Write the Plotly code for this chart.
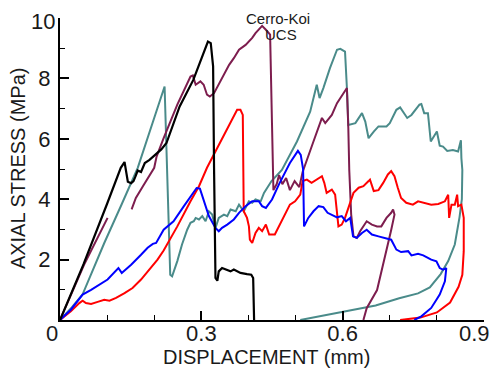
import plotly.graph_objects as go

# ---------------- data ----------------
teal_x = [0, 0.025, 0.048, 0.094, 0.130, 0.165, 0.222, 0.227, 0.231, 0.234, 0.238, 0.249, 0.259, 0.270,
          0.277, 0.284, 0.288, 0.295, 0.302, 0.309, 0.316, 0.323, 0.330, 0.337, 0.348, 0.355, 0.362,
          0.373, 0.380, 0.390, 0.401, 0.408, 0.415, 0.426, 0.433, 0.440, 0.449, 0.471, 0.503, 0.531,
          0.545, 0.551, 0.559, 0.573, 0.588, 0.595, 0.600, 0.605, 0.609, 0.612, 0.627, 0.641, 0.648,
          0.655, 0.666, 0.676, 0.693, 0.700, 0.714, 0.722, 0.737, 0.746, 0.763, 0.767, 0.773, 0.781,
          0.787, 0.800, 0.806, 0.813, 0.822, 0.834, 0.845, 0.851, 0.852, 0.854, 0.853, 0.848, 0.838,
          0.824, 0.808, 0.785, 0.760, 0.720, 0.670, 0.600, 0.545, 0.510]
teal_y = [0, 0.42, 0.85, 2.55, 3.80, 5.04, 7.73, 5.04, 2.83, 1.50, 1.45, 1.95, 2.50, 2.99,
          3.22, 3.27, 3.38, 3.33, 3.44, 3.27, 3.60, 3.49, 3.05, 3.38, 3.49, 3.44, 3.66,
          3.60, 3.82, 3.60, 3.93, 3.88, 3.99, 3.93, 4.21, 4.38, 4.60, 4.97, 5.91, 6.90,
          7.79, 7.35, 7.68, 8.34, 8.95, 8.98, 8.92, 8.89, 7.68, 6.46, 6.52, 6.85, 6.57,
          6.02, 6.24, 6.41, 6.41, 6.52, 6.96, 7.04, 6.69, 6.79, 7.13, 7.15, 6.85, 6.85,
          5.91, 6.24, 5.77, 5.74, 5.60, 5.63, 5.58, 5.95, 5.36, 4.97, 4.00, 3.40, 2.50,
          1.95, 1.52, 1.08, 0.88, 0.72, 0.48, 0.28, 0.10, 0.0]

maroon_x = [0, 0.051, 0.101, None, 0.152, 0.161, 0.176, 0.200, 0.205, 0.220, 0.249, 0.277, 0.282,
            0.288, 0.298, 0.305, 0.312, 0.318, 0.327, 0.337, 0.348, 0.359, 0.369, 0.380, 0.394,
            0.408, 0.415, 0.426, 0.429, 0.437, 0.446, 0.450, 0.453, 0.460, 0.465, 0.472, 0.480,
            0.488, 0.498, 0.508, 0.515, 0.538, 0.556, 0.563, 0.577, 0.588, 0.602, 0.609, 0.612,
            0.614, 0.618, 0.623, 0.630, 0.637, 0.651, 0.662, 0.673, 0.682, 0.693, 0.703, 0.707,
            0.710, 0.703, 0.687, 0.673, 0.651, 0.644]
maroon_y = [0, 1.83, 3.38, None, 3.66, 4.04, 4.43, 5.04, 5.41, 6.02, 7.13, 8.06, 8.10,
            7.79, 7.90, 7.79, 7.46, 7.40, 7.51, 7.79, 8.12, 8.45, 8.67, 8.95, 9.11,
            9.34, 9.50, 9.67, 9.74, 9.61, 9.45, 6.50, 4.30, 4.50, 4.80, 4.50, 4.70,
            4.30, 4.60, 4.40, 4.90, 5.91, 6.69, 6.52, 6.79, 7.18, 7.51, 7.68, 6.35,
            4.97, 3.50, 2.77, 2.72, 2.94, 3.27, 3.16, 3.10, 3.10, 3.38, 3.55, 3.66,
            3.49, 2.98, 1.88, 0.99, 0.39, 0]

red_x = [0, 0.023, 0.041, 0.048, 0.055, 0.066, 0.080, 0.094, 0.105, 0.119, 0.137, 0.154, 0.172,
         0.190, 0.207, 0.220, 0.249, 0.277, 0.295, 0.312, 0.348, 0.366, 0.376, 0.383, 0.388,
         0.390, 0.394, 0.397, 0.401, 0.403, 0.408, 0.415, 0.422, 0.429, 0.437, 0.444, 0.456,
         0.467, 0.478, 0.488, 0.499, 0.510, 0.515, 0.524, 0.534, 0.545, 0.556, 0.561, 0.566,
         0.577, 0.584, 0.591, 0.598, 0.605, 0.614, 0.623, 0.634, 0.644, 0.655, 0.658, 0.666,
         0.676, 0.686, 0.696, 0.703, 0.710, 0.717, 0.724, 0.735, 0.749, 0.760, 0.774, 0.788,
         0.803, 0.817, 0.824, 0.826, 0.831, 0.838, 0.843, 0.845, 0.852, 0.857, 0.857, 0.854,
         0.846, 0.828, 0.800, 0.765, 0.722]
red_y = [0, 0.29, 0.56, 0.64, 0.56, 0.53, 0.60, 0.67, 0.64, 0.73, 0.89, 1.06, 1.34,
         1.67, 2.00, 2.30, 3.10, 3.93, 4.43, 5.04, 6.13, 6.69, 6.96, 6.96, 6.79,
         3.60, 3.49, 3.38, 3.10, 2.66, 2.55, 2.88, 3.05, 2.94, 3.16, 2.83, 2.83,
         3.16, 3.49, 3.82, 3.93, 4.15, 4.60, 4.65, 4.54, 4.65, 4.76, 4.54, 4.21,
         4.32, 4.15, 3.10, 3.16, 3.38, 3.82, 4.21, 4.38, 4.43, 4.60, 4.65, 4.27,
         4.30, 4.54, 4.82, 4.93, 4.76, 4.38, 4.04, 3.88, 3.82, 3.93, 3.88, 3.82,
         3.84, 3.93, 4.15, 3.38, 3.82, 3.82, 4.15, 3.77, 3.82, 3.38, 2.28, 1.50,
         1.10, 0.58, 0.25, 0.08, 0]

blue_x = [0, 0.023, 0.048, 0.066, 0.101, 0.124, 0.131, 0.151, 0.172, 0.186, 0.197, 0.204, 0.220,
          0.241, 0.263, 0.280, 0.290, 0.297, 0.305, 0.316, 0.330, 0.337, 0.344, 0.355, 0.369,
          0.380, 0.394, 0.408, 0.422, 0.429, 0.437, 0.450, 0.465, 0.488, 0.505, 0.511, 0.516,
          0.518, 0.527, 0.538, 0.549, 0.559, 0.568, 0.577, 0.588, 0.598, 0.607, 0.616, 0.622,
          0.630, 0.641, 0.651, 0.662, 0.676, 0.686, 0.703, 0.714, 0.724, 0.739, 0.746, 0.760,
          0.771, 0.781, 0.788, 0.799, 0.806, 0.813, 0.820, 0.817, 0.806, 0.788, 0.767, 0.752]
blue_y = [0, 0.34, 0.84, 1.00, 1.34, 1.72, 1.56, 1.83, 2.16, 2.39, 2.52, 2.55, 2.99,
          3.27, 3.77, 4.15, 4.37, 4.35, 3.93, 3.44, 3.05, 2.94, 3.05, 3.16, 3.33,
          3.55, 3.77, 3.93, 3.93, 3.77, 3.71, 3.99, 4.50, 5.20, 5.60, 5.47, 5.00,
          3.10, 3.38, 3.60, 3.77, 3.74, 3.55, 3.49, 3.40, 3.44, 3.27, 3.38, 2.77,
          2.72, 2.88, 2.99, 2.83, 2.77, 2.72, 2.66, 2.33, 2.25, 2.28, 2.14, 2.19,
          2.14, 2.06, 2.00, 1.94, 1.72, 1.67, 1.72, 1.28, 0.84, 0.40, 0.12, 0]

black_x = [0, 0.050, 0.100, 0.129, 0.137, 0.144, 0.151, 0.156, 0.160, 0.165, 0.172, 0.180, 0.190,
           0.197, 0.205, 0.215, 0.226, 0.254, 0.283, 0.304, 0.314, 0.320, 0.325, 0.327, 0.330,
           0.334, 0.337, 0.344, 0.352, 0.362, 0.369, 0.383, 0.397, 0.406, 0.410, 0.412]
black_y = [0, 1.85, 3.85, 5.04, 5.23, 4.58, 4.53, 4.60, 4.75, 4.95, 4.90, 5.20, 5.30,
           5.40, 5.50, 5.65, 5.86, 7.07, 7.95, 8.84, 9.22, 9.17, 8.40, 5.04, 1.39,
           1.30, 1.61, 1.72, 1.66, 1.61, 1.67, 1.56, 1.52, 1.50, 1.39, 0]

x_tickvals = [0, 0.3, 0.6, 0.9]
x_ticktext = ["", "0.3", "0.6", ""]   # "0" (shared corner) and "0.9" (edge) drawn as annotations
y_tickvals = [0, 2, 4, 6, 8, 10]
y_ticktext = ["", "2", "4", "6", "8", ""]   # "10" (top edge) drawn as annotation

series = [
    ("teal", teal_x, teal_y, "#4A8B8A", 2),
    ("maroon", maroon_x, maroon_y, "#7D1D4E", 2),
    ("red", red_x, red_y, "#FF0000", 2),
    ("blue", blue_x, blue_y, "#0000FF", 2),
    ("black", black_x, black_y, "#000000", 2.2),
]

fig = go.Figure()
for name, xs, ys, col, w in series:
    fig.add_trace(go.Scatter(x=xs, y=ys, mode="lines", name=name,
                             line=dict(color=col, width=w), connectgaps=False,
                             showlegend=False))

FONT = "Liberation Sans, Arial, sans-serif"
TXT = "#1a1a1a"
TICK = 22
fig.update_layout(
    width=485, height=360,
    margin=dict(l=52, r=9, t=10, b=48),
    paper_bgcolor="white", plot_bgcolor="white",
    font=dict(family=FONT, color=TXT),
    xaxis=dict(range=[0, 0.9], showgrid=False, zeroline=False, automargin=False,
               showline=True, linecolor="black", linewidth=2,
               ticks="inside", ticklen=9, tickwidth=1.5, tickcolor="black",
               tickmode="array", tickvals=x_tickvals, ticktext=x_ticktext,
               tickfont=dict(size=TICK, family=FONT, color=TXT),
               ticklabelstandoff=-7, ticklabeloverflow="allow",
               minor=dict(dtick=0.1, tick0=0, ticks="inside", ticklen=5,
                          tickwidth=1.2, tickcolor="black", showgrid=False)),
    yaxis=dict(range=[0, 10], showgrid=False, zeroline=False, automargin=False,
               showline=True, linecolor="black", linewidth=2,
               ticks="inside", ticklen=9, tickwidth=1.5, tickcolor="black",
               tickmode="array", tickvals=y_tickvals, ticktext=y_ticktext,
               tickfont=dict(size=TICK, family=FONT, color=TXT),
               ticklabelstandoff=3, ticklabeloverflow="allow",
               minor=dict(tickvals=[1, 3, 5, 7, 9], ticks="inside", ticklen=5,
                          tickwidth=1.2, tickcolor="black", showgrid=False)),
)

# axis titles, corner zero and edge tick labels
fig.add_annotation(text="DISPLACEMENT (mm)", xref="paper", yref="paper", x=0.486, y=-0.1225,
                   xanchor="center", yanchor="middle", showarrow=False,
                   font=dict(size=20, family=FONT, color=TXT))
fig.add_annotation(text="AXIAL STRESS (MPa)", xref="paper", yref="paper", x=-0.099, y=0.503,
                   xanchor="center", yanchor="middle", showarrow=False, textangle=-90,
                   font=dict(size=20, family=FONT, color=TXT))
fig.add_annotation(text="0", xref="paper", yref="paper", x=-0.02, y=-0.044,
                   xanchor="center", yanchor="middle", showarrow=False,
                   font=dict(size=TICK, family=FONT, color=TXT))
fig.add_annotation(text="0.9", xref="paper", yref="paper", x=1.019, y=-0.044,
                   xanchor="right", yanchor="middle", showarrow=False,
                   font=dict(size=TICK, family=FONT, color=TXT))
fig.add_annotation(text="10", xref="paper", yref="paper", x=-0.008, y=0.99,
                   xanchor="right", yanchor="middle", showarrow=False,
                   font=dict(size=TICK, family=FONT, color=TXT))

# chart title
fig.add_annotation(text="Cerro-Koi", xref="paper", yref="paper", x=0.515, y=1.0,
                   xanchor="center", yanchor="middle", showarrow=False,
                   font=dict(size=15, family=FONT, color=TXT))
fig.add_annotation(text="UCS", xref="paper", yref="paper", x=0.522, y=0.946,
                   xanchor="center", yanchor="middle", showarrow=False,
                   font=dict(size=15, family=FONT, color=TXT))

fig.write_html("out.html")
